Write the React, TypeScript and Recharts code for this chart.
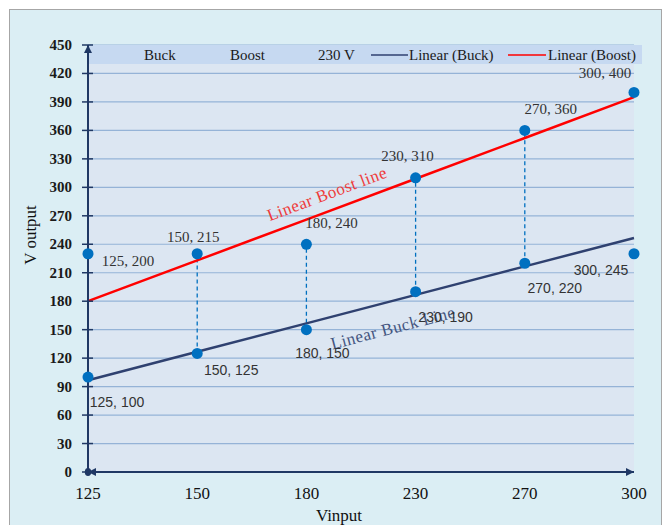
import React from 'react';
import {
  LineChart,
  Line,
  XAxis,
  YAxis,
  CartesianGrid,
  ErrorBar,
  LabelList,
  Customized,
} from 'recharts';

// Input voltage categories (V)
const vinput = ['125', '150', '180', '230', '270', '300'];
// Output voltage of the buck stage (V)
const buckVout = [100, 125, 150, 190, 220, 245];
// Output voltage of the boost stage (V)
const boostVout = [200, 215, 240, 310, 360, 400];
// 230 V reference points
const ref230Vout: (number | null)[] = [230, 230, null, null, null, 230];

// Y axis: labelled major ticks and unlabelled minor ticks
const yMajorTicks = [0, 30, 60, 90, 120, 150, 180, 210, 240, 270, 300, 330, 360, 390, 420, 450];
const yMinorStep = 10;
const yMinorTicks: number[] = [];
for (let v = 0; v <= 450; v += yMinorStep) if (v % 30 !== 0) yMinorTicks.push(v);

// Points that carry a visible marker
const buckMarker = [true, true, true, true, true, false];
const boostMarker = [false, false, true, true, true, true];
// Categories that get a high-low connector
const connectorShown = [false, true, true, true, true, false];

// Label placement relative to each point (dx, dy)
const buckLabelOffset = [[29, 25], [34, 17], [16, 23], [30, 25], [30, 25], [-33, 30]];
const boostLabelOffset = [[40, -21], [-4, -31], [25, -21], [-8, -22], [26, -21], [-29, -19]];

const NAVY = '#1f3864';
const DOT = '#0070c0';
const SERIF = '"Liberation Serif", "Times New Roman", serif';
const SANS = '"Liberation Sans", Arial, sans-serif';

// Least-squares straight line over the category index (as a spreadsheet trendline does)
function linearFit(values: number[]): number[] {
  const n = values.length;
  const mx = (n - 1) / 2;
  const my = values.reduce((a, b) => a + b, 0) / n;
  let sxy = 0;
  let sxx = 0;
  values.forEach((y, i) => {
    sxy += (i - mx) * (y - my);
    sxx += (i - mx) * (i - mx);
  });
  const slope = sxy / sxx;
  return values.map((_, i) => my + slope * (i - mx));
}

const buckFit = linearFit(buckVout);
const boostFit = linearFit(boostVout);

const rows = vinput.map((vin, i) => {
  const vals = [buckVout[i], boostVout[i], ref230Vout[i]].filter((v): v is number => v != null);
  const hi = Math.max(...vals);
  const lo = Math.min(...vals);
  return {
    vin,
    buck: buckVout[i],
    boost: boostVout[i],
    ref230: ref230Vout[i],
    buckFit: buckFit[i],
    boostFit: boostFit[i],
    hi,
    hiLoErr: connectorShown[i] ? [hi - lo, 0] : [0, 0],
  };
});

const renderDot = (shown: boolean[]) => (p: any) => {
  const key = `dot-${p.dataKey}-${p.index}`;
  if (p.cy == null || p.value == null || (shown && !shown[p.index])) return <g key={key} />;
  return <circle key={key} cx={p.cx} cy={p.cy} r={5.5} fill={DOT} stroke="none" />;
};

const renderRefDot = (p: any) => {
  const key = `dot-ref-${p.index}`;
  if (p.cy == null || p.value == null) return <g key={key} />;
  return <circle key={key} cx={p.cx} cy={p.cy} r={5.5} fill={DOT} stroke="none" />;
};

const makeLabel = (offsets: number[][], font: string, size: number, color: string) => (p: any) => {
  const x = p.x ?? p.viewBox?.x;
  const y = p.y ?? p.viewBox?.y;
  const i = p.index;
  if (x == null || y == null || i == null) return null;
  const [dx, dy] = offsets[i];
  return (
    <text
      key={`lbl-${i}`}
      x={x + dx}
      y={y + dy}
      textAnchor="middle"
      dominantBaseline="central"
      fontFamily={font}
      fontSize={size}
      fill={color}
    >
      {`${vinput[i]}, ${p.value}`}
    </text>
  );
};

// Major tick: short cross line and bold value
const YMajorTick = (p: any) => {
  const { x, y, payload } = p;
  return (
    <g>
      <line x1={x - 6} x2={x + 5} y1={y} y2={y} stroke={NAVY} strokeWidth={1.5} />
      <text
        x={x - 16}
        y={y}
        textAnchor="end"
        dominantBaseline="central"
        fontFamily={SERIF}
        fontWeight="bold"
        fontSize={15}
        fill="#1a1a1a"
      >
        {payload.value}
      </text>
    </g>
  );
};

// Minor tick: short cross line only
const YMinorTick = (p: any) => {
  const { x, y } = p;
  return <line x1={x - 5} x2={x + 4} y1={y} y2={y} stroke={NAVY} strokeWidth={1.5} />;
};

const Overlay = () => (
  <g>
    <defs>
      <marker id="axArrow" viewBox="0 0 10 10" refX="10" refY="5" markerWidth="5" markerHeight="4" orient="auto-start-reverse">
        <path d="M0,0 L10,5 L0,10 z" fill={NAVY} />
      </marker>
      <marker id="axOval" viewBox="0 0 10 10" refX="5" refY="5" markerWidth="4" markerHeight="4" orient="auto">
        <ellipse cx="5" cy="5" rx="5" ry="4" fill={NAVY} />
      </marker>
    </defs>
    {/* trendline annotations */}
    <text
      x={317}
      y={184}
      textAnchor="middle"
      dominantBaseline="central"
      transform="rotate(-20.5 317 184)"
      fontFamily={SERIF}
      fontSize={17}
      letterSpacing={0.5}
      fill="#ee3b3b"
    >
      Linear Boost line
    </text>
    <text
      x={383}
      y={318}
      textAnchor="middle"
      dominantBaseline="central"
      transform="rotate(-14.6 383 318)"
      fontFamily={SERIF}
      fontSize={17}
      letterSpacing={0.5}
      fill="#44557f"
    >
      Linear Buck Line
    </text>
    {/* axis titles */}
    <text x={329} y={505} textAnchor="middle" dominantBaseline="central" fontFamily={SERIF} fontSize={17} fill="#111">
      Vinput
    </text>
    <text
      x={20}
      y={225}
      textAnchor="middle"
      dominantBaseline="central"
      transform="rotate(-90 20 225)"
      fontFamily={SERIF}
      fontSize={17}
      fill="#111"
    >
      V output
    </text>
    {/* legend band */}
    <rect x={78} y={35} width={554} height={19} fill="#c6d9f1" />
    <g fontFamily={SERIF} fontSize={15} fill="#1a1a1a">
      <text x={134} y={50}>Buck</text>
      <text x={220} y={50}>Boost</text>
      <text x={308} y={50}>230 V</text>
      <line x1={361} x2={398} y1={45} y2={45} stroke="#2f4170" strokeWidth={1.5} />
      <text x={399} y={50}>Linear (Buck)</text>
      <line x1={498} x2={536} y1={45} y2={45} stroke="#ff0000" strokeWidth={1.5} />
      <text x={538} y={50}>Linear (Boost)</text>
    </g>
  </g>
);

export default function App() {
  return (
    <div
      style={{
        position: 'absolute',
        left: 9,
        top: 9,
        width: 651,
        height: 520,
        background: '#dbeef4',
        border: '1px solid #a6a6a6',
        overflow: 'hidden',
      }}
    >
      <LineChart width={651} height={515} data={rows} margin={{ top: 35, right: 27, bottom: 18, left: 18 }}>
        <CartesianGrid vertical={false} fill="#dce6f2" stroke="#95b3d7" strokeWidth={1.2} />
        <XAxis
          dataKey="vin"
          interval={0}
          tickLine={false}
          tickSize={0}
          tickMargin={15}
          height={35}
          axisLine={{ stroke: NAVY, strokeWidth: 2, markerStart: 'url(#axArrow)', markerEnd: 'url(#axArrow)' }}
          tick={{ fontFamily: SERIF, fontSize: 17, fill: '#111' }}
        />
        <YAxis
          domain={[0, 450]}
          ticks={yMajorTicks}
          interval={0}
          width={60}
          tickLine={false}
          tickSize={0}
          tickMargin={0}
          tick={<YMajorTick />}
          axisLine={{ stroke: NAVY, strokeWidth: 2, markerStart: 'url(#axArrow)', markerEnd: 'url(#axOval)' }}
        />
        <YAxis
          yAxisId="minor"
          mirror
          domain={[0, 450]}
          allowDataOverflow
          ticks={yMinorTicks}
          interval={0}
          width={0}
          tickLine={false}
          tickSize={0}
          tickMargin={0}
          axisLine={false}
          tick={<YMinorTick />}
        />
        <YAxis
          yAxisId="right"
          orientation="right"
          domain={[0, 450]}
          allowDataOverflow
          width={0}
          tick={false}
          tickLine={false}
          axisLine={{ stroke: NAVY, strokeWidth: 2 }}
        />
        {/* high-low connectors */}
        <Line dataKey="hi" stroke="none" dot={false} activeDot={false} isAnimationActive={false} legendType="none">
          <ErrorBar
            dataKey="hiLoErr"
            direction="y"
            width={0}
            stroke={DOT}
            strokeWidth={1.3}
            strokeDasharray="4 3"
            isAnimationActive={false}
          />
        </Line>
        {/* trendlines */}
        <Line dataKey="buckFit" stroke="#2f4170" strokeWidth={2.5} dot={false} activeDot={false} isAnimationActive={false} />
        <Line dataKey="boostFit" stroke="#ff0000" strokeWidth={2.5} dot={false} activeDot={false} isAnimationActive={false} />
        {/* measured points */}
        <Line dataKey="ref230" stroke="none" dot={renderRefDot} activeDot={false} isAnimationActive={false} />
        <Line dataKey="buck" stroke="none" dot={renderDot(buckMarker)} activeDot={false} isAnimationActive={false}>
          <LabelList dataKey="buck" content={makeLabel(buckLabelOffset, SANS, 14, '#333333')} />
        </Line>
        <Line dataKey="boost" stroke="none" dot={renderDot(boostMarker)} activeDot={false} isAnimationActive={false}>
          <LabelList dataKey="boost" content={makeLabel(boostLabelOffset, SERIF, 15, '#333333')} />
        </Line>
        <Customized component={Overlay} />
      </LineChart>
    </div>
  );
}
